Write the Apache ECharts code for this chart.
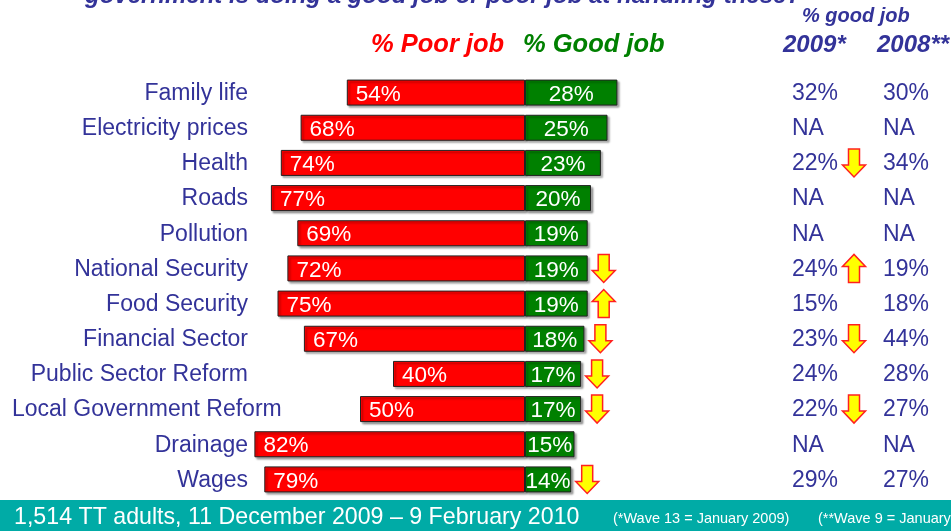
<!DOCTYPE html>
<html>
<head>
<meta charset="utf-8">
<script src="https://cdn.jsdelivr.net/npm/echarts@6/dist/echarts.min.js"></script>
<style>
html,body{margin:0;padding:0;background:#fff;}
#chart{width:951px;height:531px;}
</style>
</head>
<body>
<div id="chart"></div>
<script>
const categories = ['Family life','Electricity prices','Health','Roads','Pollution','National Security','Food Security','Financial Sector','Public Sector Reform','Local Government Reform','Drainage','Wages'];
const poorJob = [54,68,74,77,69,72,75,67,40,50,82,79];
const goodJob = [28,25,23,20,19,19,19,18,17,17,15,14];
const good2009 = ['32%','NA','22%','NA','NA','24%','15%','23%','24%','22%','NA','29%'];
const good2008 = ['30%','NA','34%','NA','NA','19%','18%','44%','28%','27%','NA','27%'];
const barArrows = ['','','','','','down','up','down','down','down','','down'];
const trendArrows = ['','','down','','','up','','down','','down','',''];

const NAVY = '#333399';
const FONT = 'Arial, "Liberation Sans", sans-serif';

function arrowShape(cx, cy, dir) {
  const s = dir === 'down' ? 1 : -1;
  const pts = [[-5.5,-14],[5.5,-14],[5.5,2],[11.5,2],[0,14],[-11.5,2],[-5.5,2]];
  return pts.map(p => [cx + p[0], cy + s * p[1]]);
}

const chart = echarts.init(document.getElementById('chart'), null, {renderer:'canvas'});

const option = {
  animation: false,
  backgroundColor: '#ffffff',
  grid: {left: 195, width: 660, top: 75, height: 422},
  xAxis: {type:'value', min:-100, max:100, show:false},
  yAxis: {type:'category', data:categories, inverse:true, show:false},
  series: [
    {
      name:'% Poor job', type:'bar', barWidth:26, barGap:'-100%',
      data: poorJob.map(v => -v),
      itemStyle:{color:'#FF0000', borderColor:'#222', borderWidth:1,
        shadowColor:'rgba(0,0,0,0.35)', shadowOffsetX:2, shadowOffsetY:2, shadowBlur:2},
      label:{show:true, position:'insideLeft', distance:9, offset:[0,2], color:'#fff',
        fontSize:22.5, fontFamily:FONT, formatter: p => Math.abs(p.value) + '%'}
    },
    {
      name:'% Good job', type:'bar', barWidth:26, barGap:'-100%',
      data: goodJob,
      itemStyle:{color:'#008000', borderColor:'#222', borderWidth:1,
        shadowColor:'rgba(0,0,0,0.35)', shadowOffsetX:2, shadowOffsetY:2, shadowBlur:2},
      label:{show:true, position:'inside', offset:[0,2], color:'#fff',
        fontSize:22.5, fontFamily:FONT, formatter: p => p.value + '%'}
    },
    {
      type:'custom', name:'labels', silent:true,
      data: categories.map((c,i) => [0, i]),
      renderItem: function(params, api) {
        const i = params.dataIndex;
        const y = api.coord([0, i])[1] + 1;
        const isLong = categories[i] === 'Local Government Reform';
        const children = [
          {type:'text', style:{text:categories[i], x: isLong ? 12 : 248, y: y,
            align: isLong ? 'left' : 'right', verticalAlign:'middle',
            textAlign: isLong ? 'left' : 'right', textVerticalAlign:'middle',
            fill:NAVY, font:'23px ' + FONT}},
          {type:'text', style:{text:good2009[i], x:792, y:y, align:'left', verticalAlign:'middle',
            textAlign:'left', textVerticalAlign:'middle', fill:NAVY, font:'23px ' + FONT}},
          {type:'text', style:{text:good2008[i], x:883, y:y, align:'left', verticalAlign:'middle',
            textAlign:'left', textVerticalAlign:'middle', fill:NAVY, font:'23px ' + FONT}}
        ];
        if (trendArrows[i]) {
          children.push({type:'polygon', shape:{points: arrowShape(854, y - 1, trendArrows[i])},
            style:{fill:'#FFFF00', stroke:'#FF2020', lineWidth:1.5}});
        }
        return {type:'group', children: children};
      },
      z: 5
    },
    {
      type:'custom', name:'barArrows', silent:true,
      data: goodJob.map((v,i) => [v, i]),
      renderItem: function(params, api) {
        const i = params.dataIndex;
        if (!barArrows[i]) return {type:'group', children:[]};
        const pt = api.coord([api.value(0), i]);
        return {type:'polygon', shape:{points: arrowShape(pt[0] + 16, pt[1], barArrows[i])},
          style:{fill:'#FFFF00', stroke:'#FF2020', lineWidth:1.5}};
      },
      z: 5
    }
  ],
  graphic: [
    {type:'text', left:85, top:-16, style:{text:'government is doing a good job or poor job at handling these?',
      fill:NAVY, font:'italic bold 24px ' + FONT}},
    {type:'text', x:802, y:16, style:{text:'% good job', fill:NAVY, font:'italic bold 20px ' + FONT,
      textVerticalAlign:'middle', verticalAlign:'middle'}},
    {type:'text', x:783, y:45, style:{text:'2009*', fill:NAVY, font:'italic bold 24px ' + FONT,
      textVerticalAlign:'middle', verticalAlign:'middle'}},
    {type:'text', x:877, y:45, style:{text:'2008**', fill:NAVY, font:'italic bold 24px ' + FONT,
      textVerticalAlign:'middle', verticalAlign:'middle'}},
    {type:'text', x:371, y:45, style:{text:'% Poor job', fill:'#FF0000', font:'italic bold 25.5px ' + FONT,
      textVerticalAlign:'middle', verticalAlign:'middle'}},
    {type:'text', x:523, y:45, style:{text:'% Good job', fill:'#008000', font:'italic bold 25.5px ' + FONT,
      textVerticalAlign:'middle', verticalAlign:'middle'}},
    {type:'rect', shape:{x:0, y:500, width:951, height:31}, style:{fill:'#00ABA6'}},
    {type:'text', x:14, y:518, style:{text:'1,514 TT adults, 11 December 2009 \u2013 9 February 2010', fill:'#ffffff',
      font:'23.2px ' + FONT, textVerticalAlign:'middle', verticalAlign:'middle'}},
    {type:'text', x:613, y:519, style:{text:'(*Wave 13 = January 2009)', fill:'#ffffff',
      font:'14.5px ' + FONT, textVerticalAlign:'middle', verticalAlign:'middle'}},
    {type:'text', x:818, y:519, style:{text:'(**Wave 9 = January 2008)', fill:'#ffffff',
      font:'14.5px ' + FONT, textVerticalAlign:'middle', verticalAlign:'middle'}}
  ]
};
chart.setOption(option);
</script>
</body>
</html>
